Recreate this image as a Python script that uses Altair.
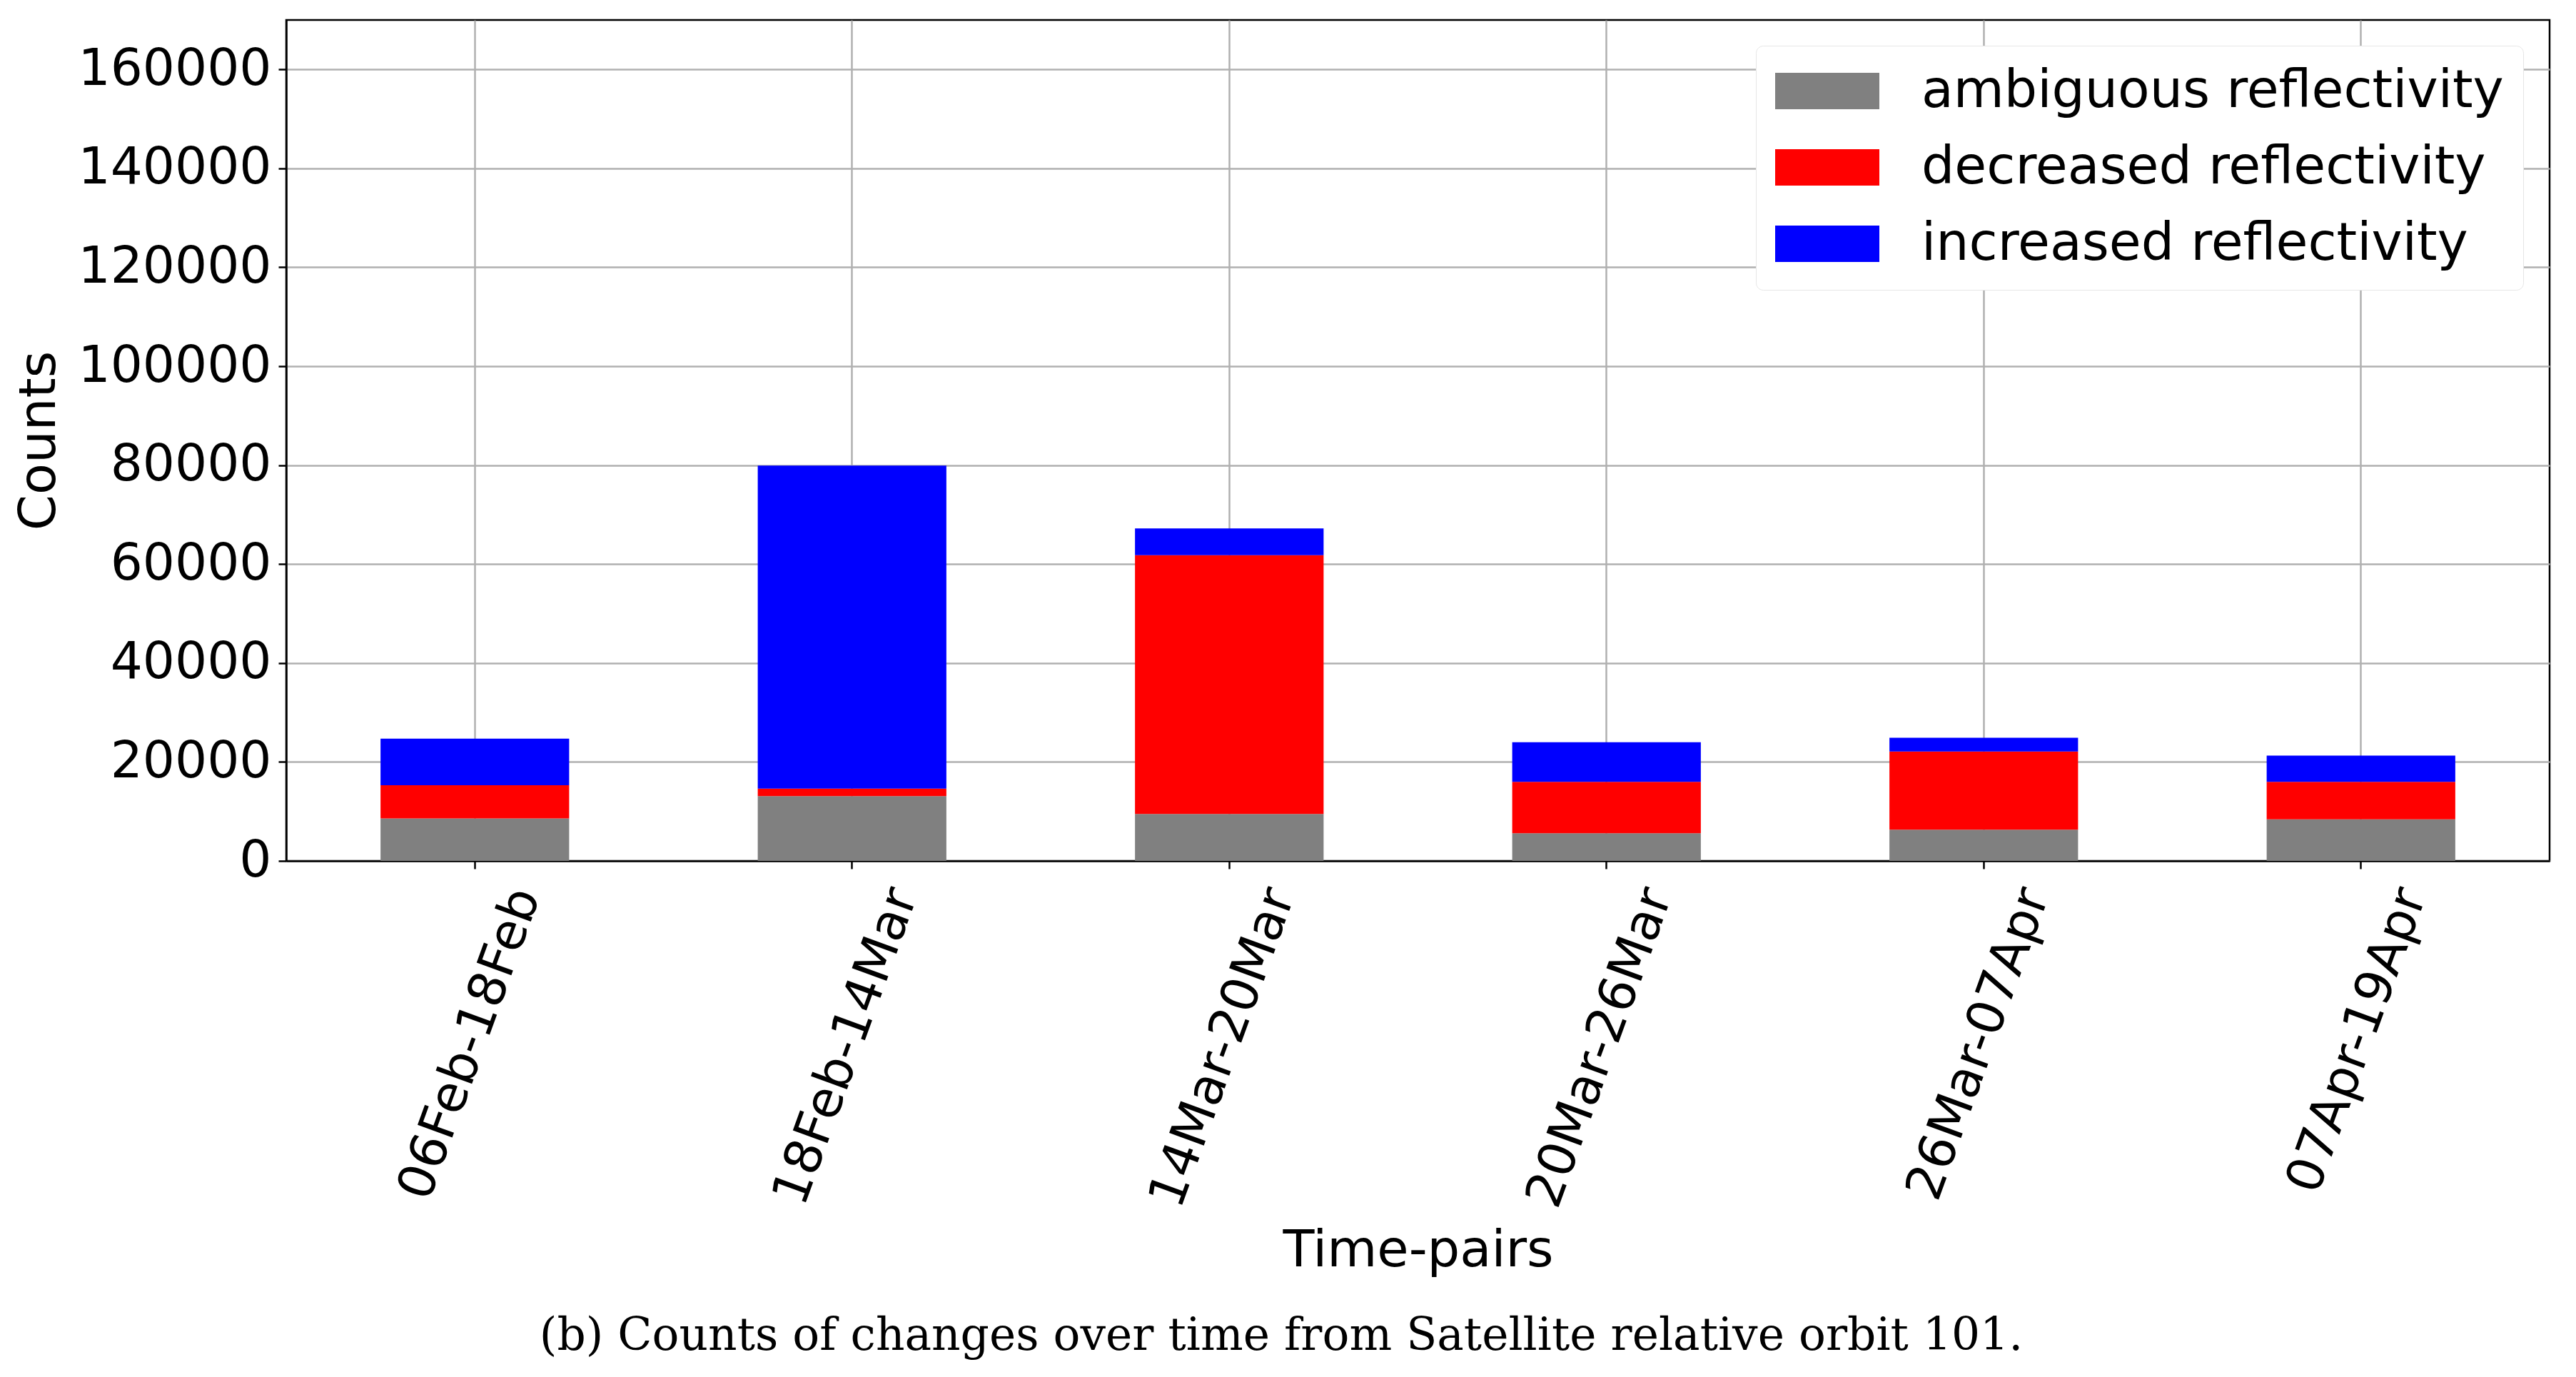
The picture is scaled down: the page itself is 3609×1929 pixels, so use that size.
import altair as alt
import pandas as pd

pairs = ["06Feb-18Feb", "18Feb-14Mar", "14Mar-20Mar", "20Mar-26Mar", "26Mar-07Apr", "07Apr-19Apr"]
ambiguous = [8600, 13100, 9500, 5600, 6300, 8400]
decreased = [6700, 1500, 52300, 10400, 15800, 7600]
increased = [9400, 65300, 5400, 8000, 2800, 5300]
categories = ["ambiguous reflectivity", "decreased reflectivity", "increased reflectivity"]
colors = ["#808080", "#ff0000", "#0000ff"]
y_ticks = [0, 20000, 40000, 60000, 80000, 100000, 120000, 140000, 160000]
caption = "(b) Counts of changes over time from Satellite relative orbit 101."

rows = []
for i, p in enumerate(pairs):
    for k, (cat, vals) in enumerate(zip(categories, [ambiguous, decreased, increased])):
        rows.append({"pair": p, "type": cat, "count": vals[i], "order": k})
df = pd.DataFrame(rows)

FONT = "DejaVu Sans"

chart = alt.Chart(df).mark_bar().encode(
    x=alt.X(
        "pair:N",
        sort=pairs,
        title="Time-pairs",
        scale=alt.Scale(paddingInner=0.5, paddingOuter=0.25),
        axis=alt.Axis(
            bandPosition=0.5,
            labelAngle=290,
            labelAlign="right",
            labelBaseline="middle",
            labelOffset=72,
            labelPadding=30,
            labelLimit=2000,
            labelOverlap=False,
            labelFontSize=71,
            labelFont=FONT,
            labelColor="black",
            titleFontSize=72,
            titleFont=FONT,
            titleFontWeight="normal",
            titleColor="black",
            titleY=545,
            titleBaseline="middle",
            tickSize=11,
            tickWidth=2.5,
            tickColor="black",
            domainColor="black",
            domainWidth=2.5,
            grid=True,
            gridColor="#b0b0b0",
            gridWidth=2.5,
        ),
    ),
    y=alt.Y(
        "count:Q",
        stack="zero",
        title="Counts",
        scale=alt.Scale(domain=[0, 170000], nice=False, zero=True),
        axis=alt.Axis(
            values=y_ticks,
            format="d",
            labelFontSize=71,
            labelFont=FONT,
            labelColor="black",
            labelPadding=10,
            labelLimit=2000,
            titleFontSize=72,
            titleFont=FONT,
            titleFontWeight="normal",
            titleColor="black",
            titleX=-347,
            titleBaseline="middle",
            tickSize=11,
            tickWidth=2.5,
            tickColor="black",
            domainColor="black",
            domainWidth=2.5,
            grid=True,
            gridColor="#b0b0b0",
            gridWidth=2.5,
        ),
    ),
    color=alt.Color(
        "type:N",
        scale=alt.Scale(domain=categories, range=colors),
        legend=alt.Legend(
            title=None,
            orient="none",
            legendX=2059,
            legendY=36,
            fillColor="white",
            strokeColor="#e6e6e6",
            cornerRadius=10,
            padding=27,
            symbolType="M-1,-0.7H3V0.7H-1Z",
            symbolSize=5329,
            symbolStrokeWidth=0,
            symbolOpacity=1,
            labelFontSize=73,
            labelFont=FONT,
            labelColor="black",
            labelOffset=132,
            labelLimit=2000,
            rowPadding=33,
        ),
    ),
    order=alt.Order("order:Q", sort="ascending"),
).properties(
    width=3171,
    height=1178,
    padding={"left": 10, "top": 20, "right": 20, "bottom": 10},
    title=alt.TitleParams(
        caption,
        orient="bottom",
        anchor="middle",
        frame="bounds",
        font="DejaVu Serif",
        fontSize=63,
        fontWeight="normal",
        color="black",
        offset=54,
    ),
).configure_view(
    stroke="black",
    strokeWidth=2.5,
)

chart.save("out.html", embed_options={"renderer": "svg", "actions": False})
